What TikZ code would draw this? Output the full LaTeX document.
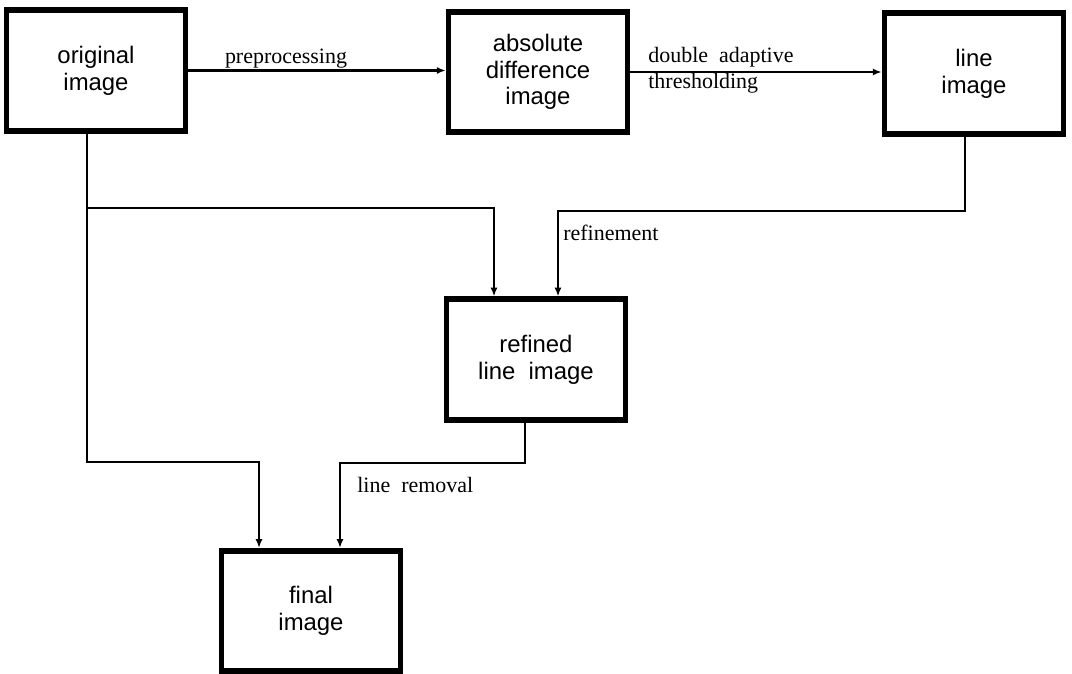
\documentclass[tikz,border=0pt]{standalone}
\usepackage{fontspec}
\setmainfont{Liberation Serif}
\newfontfamily\boxfont{Liberation Sans}
\usetikzlibrary{arrows.meta}

\begin{document}
\begin{tikzpicture}[x=0.02cm, y=-0.02cm,
	stage/.style={draw, line width=3.2pt, minimum width=3.58cm, minimum height=2.41cm, align=center, inner sep=0pt, font=\boxfont\fontsize{13.6}{15.2}\selectfont},
	flow/.style={line width=1.3pt, -{Latex[length=5pt,width=4pt]}},
	tag/.style={font=\fontsize{12.5}{14}\selectfont, inner sep=0pt}]
			\useasboundingbox (0,0) rectangle (1072,673);

			\node (orig) [stage] at (96,70.5) {original\\image};
			\node (absd) [stage] at (538,72) {absolute\\difference\\image};
			\node (line) [stage] at (974,73.5) {line\\image};
			\node (refd) [stage] at (536,359.5) {refined\\line~ image};
			\node (final) [stage] at (311,611) {final\\image};

			% bend points
			\coordinate (o1) at (87,208);
			\coordinate (o2) at (87,462);
			\coordinate (r1) at (494,208);
			\coordinate (r2) at (558,211);
			\coordinate (l1) at (965,211);
			\coordinate (d1) at (525,463);
			\coordinate (f1) at (259,462);
			\coordinate (f2) at (340,463);

			\draw [flow] (orig.east) -- (orig.east -| absd.west);
			\draw [flow] (absd.east) -- (absd.east -| line.west);
			\draw [flow] (orig.south -| o1) -- (o2) -- (f1) -- (f1 |- final.north);
			\draw [flow] (o1) -- (r1) -- (r1 |- refd.north);
			\draw [flow] (line.south -| l1) -- (l1) -- (r2) -- (r2 |- refd.north);
			\draw [flow] (refd.south -| d1) -- (d1) -- (f2) -- (f2 |- final.north);

			\node (pre) [tag, anchor=base] at (286,63) {preprocessing};
			\node (dbl) [tag, anchor=base west] at (648,62) {double~ adaptive};
			\node (thr) [tag, anchor=base west] at (648,88) {thresholding};
			\node (ref) [tag, anchor=base west] at (563,240) {refinement};
			\node (rem) [tag, anchor=base west] at (357,492) {line~ removal};
\end{tikzpicture}
\end{document}
